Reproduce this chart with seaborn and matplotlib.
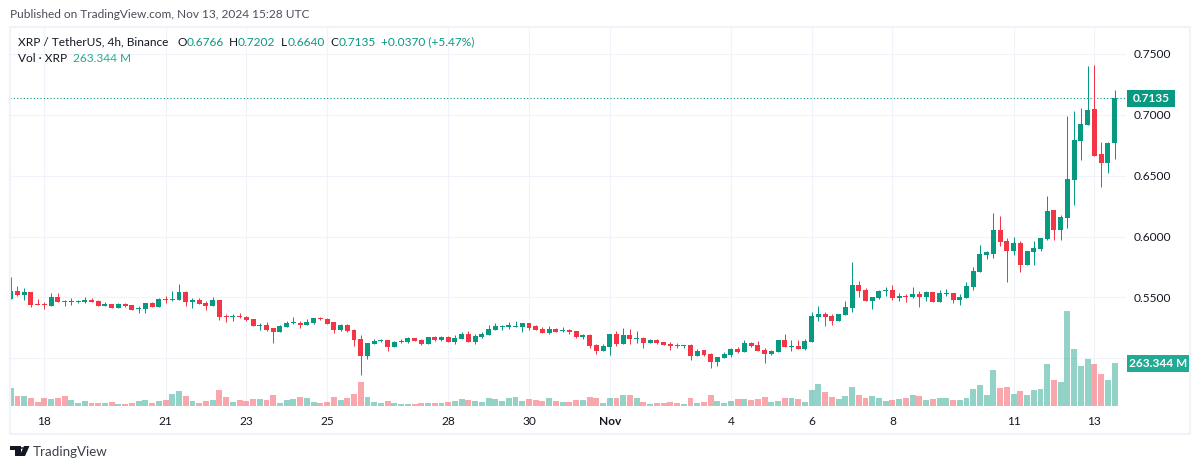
import matplotlib
matplotlib.use("Agg")
import matplotlib.pyplot as plt
from matplotlib.patches import Polygon, Rectangle, Circle
import pandas as pd
import seaborn as sns

# 4h candles, 17 Oct - 13 Nov 2024
opens = [
    .5486, .5552, .5519, .5544, .5445, .5445, .5429, .5503, .5470, .5462, .5462, .5462, .5478, .5470, .5429,
    .5445, .5413, .5445, .5437, .5404, .5404, .5454, .5421, .5486, .5478, .5478, .5544, .5462, .5478, .5454,
    .5429, .5478, .5347, .5339, .5347, .5339, .5322, .5265, .5273, .5249, .5216, .5257, .5290, .5290, .5273,
    .5290, .5331, .5322, .5298, .5232, .5273, .5232, .5158, .5019, .5117, .5142, .5150, .5093, .5134, .5134,
    .5167, .5150, .5117, .5175, .5150, .5175, .5134, .5158, .5199, .5134, .5175, .5191, .5232, .5257, .5257,
    .5259, .5257, .5290, .5265, .5240, .5208, .5240, .5224, .5232, .5224, .5175, .5191, .5109, .5060, .5093,
    .5199, .5117, .5191, .5158, .5167, .5126, .5150, .5134, .5117, .5109, .5101, .5109, .5019, .5068, .5036,
    .4970, .5003, .5027, .5076, .5052, .5126, .5109, .5068, .5036, .5052, .5150, .5093, .5101, .5076, .5134,
    .5339, .5363, .5347, .5306, .5355, .5413, .5601, .5560, .5470, .5495, .5552, .5560, .5495, .5511, .5503,
    .5527, .5503, .5544, .5462, .5527, .5536, .5478, .5495, .5585, .5708, .5847, .5858, .6055, .5964, .5882,
    .5948, .5767, .5874, .5899, .5981, .6219, .6055, .6153, .6465, .6786, .6917, .7048, .6679, .6605, .6766,
]
highs = [
    .5664, .5593, .5576, .5544, .5486, .5462, .5536, .5536, .5478, .5495, .5478, .5503, .5495, .5478, .5462,
    .5445, .5454, .5454, .5437, .5429, .5454, .5462, .5495, .5511, .5552, .5609, .5552, .5495, .5495, .5470,
    .5503, .5478, .5363, .5363, .5372, .5347, .5322, .5290, .5298, .5249, .5273, .5306, .5339, .5306, .5322,
    .5331, .5339, .5331, .5298, .5281, .5281, .5240, .5191, .5126, .5158, .5158, .5150, .5142, .5158, .5175,
    .5167, .5158, .5175, .5183, .5183, .5183, .5191, .5216, .5224, .5199, .5216, .5273, .5290, .5273, .5298,
    .5306, .5290, .5290, .5273, .5257, .5265, .5249, .5257, .5240, .5224, .5199, .5199, .5117, .5117, .5199,
    .5224, .5249, .5240, .5224, .5175, .5158, .5158, .5134, .5134, .5126, .5109, .5117, .5076, .5068, .5044,
    .5011, .5052, .5085, .5093, .5150, .5134, .5142, .5085, .5068, .5150, .5199, .5150, .5150, .5158, .5380,
    .5429, .5380, .5363, .5363, .5470, .5790, .5634, .5576, .5503, .5560, .5585, .5601, .5536, .5527, .5585,
    .5552, .5552, .5544, .5560, .5568, .5536, .5527, .5626, .5749, .5929, .5880, .6191, .6170, .5989, .5997,
    .5964, .5882, .5964, .5989, .6334, .6219, .6178, .6991, .7032, .7056, .7401, .7410, .6777, .6777, .7202,
]
lows = [
    .5486, .5511, .5478, .5421, .5437, .5404, .5429, .5462, .5429, .5437, .5454, .5454, .5462, .5429, .5429,
    .5413, .5413, .5421, .5396, .5372, .5372, .5421, .5421, .5454, .5470, .5478, .5429, .5413, .5445, .5396,
    .5429, .5314, .5298, .5306, .5331, .5306, .5265, .5232, .5224, .5126, .5216, .5257, .5281, .5249, .5273,
    .5281, .5314, .5281, .5208, .5224, .5216, .5101, .4863, .4995, .5117, .5134, .5060, .5093, .5126, .5126,
    .5142, .5109, .5117, .5142, .5142, .5134, .5117, .5158, .5134, .5117, .5167, .5191, .5232, .5232, .5240,
    .5259, .5216, .5232, .5232, .5208, .5199, .5216, .5216, .5199, .5167, .5158, .5085, .5036, .5060, .5027,
    .5101, .5117, .5117, .5126, .5085, .5126, .5117, .5109, .5068, .5085, .5085, .4986, .5019, .5019, .4921,
    .4937, .5003, .5011, .5044, .5052, .5093, .5060, .4962, .5027, .5052, .5093, .5060, .5076, .5068, .5134,
    .5306, .5265, .5273, .5306, .5355, .5380, .5503, .5470, .5404, .5486, .5511, .5478, .5470, .5462, .5495,
    .5421, .5470, .5462, .5462, .5511, .5454, .5437, .5495, .5560, .5708, .5814, .5822, .5923, .5628, .5849,
    .5710, .5767, .5767, .5882, .5973, .5973, .5973, .6071, .6260, .6630, .6917, .6662, .6408, .6523, .6640,
]
closes = [
    .5552, .5519, .5544, .5437, .5437, .5437, .5503, .5462, .5462, .5470, .5470, .5478, .5462, .5429, .5445,
    .5413, .5445, .5429, .5396, .5413, .5454, .5421, .5486, .5478, .5486, .5544, .5462, .5478, .5445, .5429,
    .5478, .5339, .5339, .5347, .5339, .5314, .5265, .5273, .5232, .5216, .5265, .5290, .5298, .5273, .5298,
    .5331, .5322, .5281, .5232, .5273, .5224, .5150, .5019, .5126, .5142, .5150, .5093, .5134, .5142, .5167,
    .5142, .5117, .5175, .5150, .5175, .5134, .5167, .5199, .5134, .5183, .5199, .5240, .5265, .5265, .5273,
    .5265, .5290, .5249, .5232, .5208, .5240, .5216, .5232, .5216, .5175, .5191, .5101, .5060, .5101, .5199,
    .5117, .5191, .5158, .5167, .5126, .5150, .5126, .5109, .5101, .5101, .5109, .5019, .5060, .5027, .4970,
    .5011, .5036, .5076, .5052, .5126, .5101, .5060, .5036, .5060, .5150, .5093, .5101, .5076, .5142, .5347,
    .5363, .5339, .5306, .5363, .5421, .5601, .5552, .5470, .5503, .5552, .5560, .5495, .5511, .5503, .5527,
    .5503, .5544, .5462, .5536, .5536, .5478, .5503, .5593, .5716, .5855, .5872, .6052, .5956, .5882, .5948,
    .5767, .5882, .5907, .5989, .6211, .6055, .6161, .6473, .6794, .6925, .7040, .6662, .6605, .6769, .7135,
]
# volume in millions of XRP
volumes = [
    110, 61, 61, 49, 24, 49, 43, 49, 61, 37, 18, 31, 18, 18, 18,
    24, 12, 12, 18, 31, 37, 18, 31, 37, 73, 92, 61, 31, 18, 31,
    37, 98, 55, 24, 37, 31, 43, 43, 37, 67, 18, 37, 43, 55, 49,
    24, 18, 24, 55, 37, 49, 73, 147, 55, 24, 18, 31, 18, 12, 12,
    12, 18, 18, 18, 18, 24, 31, 43, 37, 31, 24, 49, 43, 31, 49,
    55, 31, 43, 37, 31, 49, 31, 24, 24, 37, 37, 55, 49, 18, 49,
    49, 67, 67, 49, 24, 12, 18, 18, 24, 18, 12, 49, 18, 24, 67,
    31, 18, 31, 43, 43, 37, 43, 55, 24, 31, 49, 49, 43, 24, 98,
    135, 86, 55, 43, 61, 116, 67, 49, 61, 49, 31, 37, 43, 49, 67,
    61, 37, 43, 49, 49, 37, 37, 49, 104, 129, 67, 220, 110, 116, 73,
    92, 67, 98, 104, 257, 159, 147, 582, 349, 245, 288, 257, 196, 159, 263.344,
]
price_ticks = [0.50, 0.55, 0.60, 0.65, 0.70, 0.75]
day_ticks = [5, 23, 35, 47, 65, 77, 89, 107, 119, 131, 149, 161]
day_labels = ["18", "21", "23", "25", "28", "30", "Nov", "4", "6", "8", "11", "13"]

GREEN = "#089981"
RED = "#F23645"
TEXT = "#131722"
FONT_SIZE = 8.55
W, H = 1200, 469


def fx(px):
    return px / W


def fy(py):
    return 1 - py / H


def label(fig, px, py, s, color=TEXT, size=FONT_SIZE, **kw):
    fig.text(fx(px), fy(py), s, color=color, fontsize=size, va="center", **kw)


sns.set_theme(style="white")
plt.rcParams["font.family"] = ["Lato", "DejaVu Sans"]

df = pd.DataFrame({"o": opens, "h": highs, "l": lows, "c": closes, "vol": volumes})
df["i"] = df.index
df["side"] = ["up" if c >= o else "down" for o, c in zip(df["o"], df["c"])]
df["color"] = df["side"].map({"up": GREEN, "down": RED})

fig = plt.figure(figsize=(W / 100, H / 100), dpi=100, facecolor="white")
ax = fig.add_axes([fx(10), fy(406), fx(1116), 379 / H])
ax.set_facecolor("white")

# price pane
ax.grid(True, color="#F0F3FA", linewidth=0.8)
ax.set_axisbelow(True)
ax.vlines(df["i"], df["l"], df["h"], colors=df["color"], linewidth=0.72, snap=True, zorder=3)
ax.bar(df["i"], (df["c"] - df["o"]).abs(), bottom=df[["o", "c"]].min(axis=1),
       width=0.74, color=df["color"], linewidth=0, zorder=4)
ax.axhline(closes[-1], color=GREEN, linestyle=(0, (1, 2)), linewidth=0.8, zorder=2)

# volume pane on the same x
ax_vol = ax.twinx()
sns.barplot(data=df, x="i", y="vol", hue="side", hue_order=["up", "down"],
            palette={"up": GREEN, "down": RED}, native_scale=True, dodge=False,
            width=0.88, errorbar=None, saturation=1, alpha=0.44, linewidth=0,
            legend=False, ax=ax_vol)
ax_vol.set_ylim(0, 379 / 43 * volumes[-1])
ax_vol.set_xlabel("")
ax_vol.set_ylabel("")
ax_vol.set_yticks([])
ax_vol.tick_params(axis="x", length=0, labelbottom=False, labeltop=False)
sns.despine(ax=ax_vol, left=True, bottom=True, right=True, top=True)

# twinx moves the price ticks back to the left, so set them up afterwards
ax.set_xlim(-0.11, 165.7)
ax.set_ylim(0.75 - 352 / 1217, 0.75 + 27 / 1217)
ax.yaxis.tick_right()
ax.set_yticks(price_ticks, [f"{t:.4f}" for t in price_ticks])
ax.set_xticks(day_ticks, day_labels)
ax.tick_params(axis="both", length=0, labelsize=FONT_SIZE, labelcolor=TEXT)
ax.tick_params(axis="x", pad=7, labelbottom=True)
ax.tick_params(axis="y", pad=5.5, labelright=True, labelleft=False)
for lab in ax.get_xticklabels():
    if lab.get_text() == "Nov":
        lab.set_fontweight("bold")
sns.despine(ax=ax, left=True, bottom=True, right=True, top=True)

# outer frame
fig.add_artist(Rectangle((fx(10), fy(434)), fx(1180), 407 / H, transform=fig.transFigure,
                         fill=False, edgecolor="#F0F3FA", linewidth=1.6))

# last price and last volume tags
fig.add_artist(Rectangle((fx(1127), fy(107)), fx(48), 17 / H, transform=fig.transFigure,
                         facecolor=GREEN, edgecolor="none", zorder=5))
fig.text(fx(1151), fy(98.5), f"{closes[-1]:.4f}", color="white", fontsize=FONT_SIZE, ha="center",
         va="center", fontweight="bold", zorder=6)
fig.add_artist(Rectangle((fx(1127), fy(372)), fx(62), 17 / H, transform=fig.transFigure,
                         facecolor="#22AB94", edgecolor="none", zorder=5))
fig.text(fx(1158), fy(363.5), "263.344 M", color="white", fontsize=FONT_SIZE, ha="center",
         va="center", fontweight="bold", zorder=6)

# header and legend lines
label(fig, 10, 14.5, "Published on TradingView.com, Nov 13, 2024 15:28 UTC", color="#4A4E59")
label(fig, 18, 42, "XRP / TetherUS, 4h, Binance")
for px, name, val in [(178, "O", opens[-1]), (229, "H", highs[-1]), (281, "L", lows[-1]), (330, "C", closes[-1])]:
    label(fig, px, 42, name)
    label(fig, px + 9 if name != "L" else px + 7, 42, f"{val:.4f}", color=GREEN)
label(fig, 381, 42, "+0.0370 (+5.47%)", color=GREEN)
label(fig, 18, 59, "Vol · XRP")
label(fig, 73, 59, "263.344 M", color="#22AB94")

# logo and footer
logo = "#131722"
fig.add_artist(Polygon([(fx(10), fy(446)), (fx(20.5), fy(446)), (fx(20.5), fy(456)), (fx(15), fy(456)),
                        (fx(15), fy(450)), (fx(10), fy(450))], transform=fig.transFigure,
                       facecolor=logo, edgecolor="none"))
fig.add_artist(Polygon([(fx(24), fy(446)), (fx(29.5), fy(446)), (fx(25), fy(456)), (fx(19.5), fy(456))],
                       transform=fig.transFigure, facecolor=logo, edgecolor="none"))
fig.add_artist(Circle((fx(22), fy(448)), 2 / W, transform=fig.transFigure, facecolor=logo, edgecolor="none"))
label(fig, 33, 451.5, "TradingView", color="#3C404B", size=9.6)

fig.savefig("out.png", dpi=100)
